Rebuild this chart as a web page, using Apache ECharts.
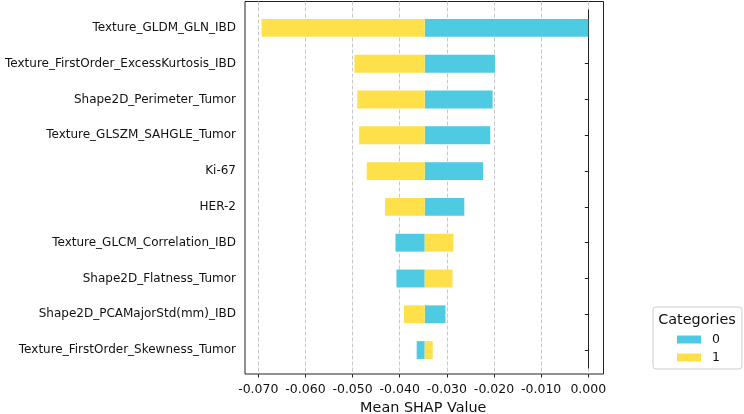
<!DOCTYPE html>
<html>
<head>
<meta charset="utf-8">
<script src="https://cdn.jsdelivr.net/npm/echarts@6/dist/echarts.min.js"></script>
<style>
  html, body { margin: 0; padding: 0; background: #fff; }
  #main { width: 744px; height: 414px; }
</style>
</head>
<body>
<div id="main"></div>
<script>
// features, top to bottom
var categories = [
    'Texture_GLDM_GLN_IBD',
    'Texture_FirstOrder_ExcessKurtosis_IBD',
    'Shape2D_Perimeter_Tumor',
    'Texture_GLSZM_SAHGLE_Tumor',
    'Ki-67',
    'HER-2',
    'Texture_GLCM_Correlation_IBD',
    'Shape2D_Flatness_Tumor',
    'Shape2D_PCAMajorStd(mm)_IBD',
    'Texture_FirstOrder_Skewness_Tumor'
];
// bars start from this common value
var baseline = -0.0347;
// mean SHAP offsets from the baseline for each category
var class0 = [0.0347, 0.0149, 0.0144, 0.0139, 0.0124, 0.0084, -0.0062, -0.0060, 0.0044, -0.0017];
var class1 = [-0.0346, -0.0149, -0.0143, -0.0139, -0.0123, -0.0084, 0.0061, 0.0059, -0.0044, 0.0017];
var xTicks = { min: -0.07, max: 0, step: 0.01 };

var FONT = 'DejaVu Sans';
var BLUE = '#4ecae3';
var YELLOW = '#fee04b';

function baseArr() {
    return categories.map(function () { return baseline; });
}

var chartDom = document.getElementById('main');
var myChart = echarts.init(chartDom);
var option;

option = {
    animation: false,
    textStyle: { fontFamily: FONT },
    title: {
        text: 'Categories',
        left: 697,
        top: 313,
        padding: 0,
        textAlign: 'center',
        textStyle: { fontFamily: FONT, fontSize: 14.4, fontWeight: 'normal', color: '#111' }
    },
    legend: {
        data: ['0', '1'],
        orient: 'vertical',
        left: 653,
        top: 307,
        padding: [26, 22, 5, 24],
        itemGap: 5,
        itemWidth: 24,
        itemHeight: 8,
        icon: 'rect',
        borderColor: '#cccccc',
        borderWidth: 1,
        borderRadius: 3,
        textStyle: { fontFamily: FONT, fontSize: 12.5, color: '#111', padding: [0, 0, 0, 6] }
    },
    grid: [
        // frame
        { left: 245, top: 1.5, width: 358.5, height: 372.5, outerBoundsMode: 'none', show: true, borderColor: '#222', borderWidth: 1, backgroundColor: 'transparent' },
        // x ticks + grid lines
        { left: 258.3, top: 1.5, width: 330, height: 372.5, outerBoundsMode: 'none' },
        // bars
        { left: 258.3, top: 10, width: 330, height: 358, outerBoundsMode: 'none' }
    ],
    xAxis: [
        { gridIndex: 0, type: 'value', show: false, min: 0, max: 1 },
        {
            gridIndex: 1,
            type: 'value',
            min: xTicks.min,
            max: xTicks.max,
            interval: xTicks.step,
            axisLine: { show: false },
            axisTick: { show: true, length: 3.5, lineStyle: { color: '#222' } },
            axisLabel: {
                margin: 9,
                fontFamily: FONT,
                fontSize: 12.5,
                color: '#111',
                formatter: function (v) {
                    if (Math.abs(v) < 1e-9) return '0.000';
                    return v.toFixed(3);
                }
            },
            splitLine: { show: true, lineStyle: { color: '#c8c8c8', type: [4, 2], width: 1 } },
            name: 'Mean SHAP Value',
            nameLocation: 'middle',
            nameGap: 26,
            nameTextStyle: { fontFamily: FONT, fontSize: 14.4, color: '#111' }
        },
        { gridIndex: 2, type: 'value', show: false, min: xTicks.min, max: xTicks.max }
    ],
    yAxis: [
        { gridIndex: 0, type: 'value', show: false, min: 0, max: 1 },
        { gridIndex: 1, type: 'value', show: false, min: 0, max: 1 },
        {
            gridIndex: 2,
            type: 'category',
            data: categories,
            inverse: true,
            offset: 13.3,
            axisLine: { show: true, lineStyle: { color: '#222' } },
            axisTick: { show: true, alignWithLabel: true, length: 3.5, lineStyle: { color: '#222' } },
            axisLabel: { margin: 9, fontFamily: FONT, fontSize: 12, color: '#111' },
            splitLine: { show: false }
        }
    ],
    series: [
        {
            name: 'base0', type: 'bar', xAxisIndex: 2, yAxisIndex: 2,
            stack: 'a', stackStrategy: 'all', silent: true,
            itemStyle: { color: 'transparent' },
            barWidth: '50%', barGap: '-100%',
            data: baseArr()
        },
        {
            name: '0', type: 'bar', xAxisIndex: 2, yAxisIndex: 2,
            stack: 'a', stackStrategy: 'all',
            itemStyle: { color: BLUE },
            barWidth: '50%', barGap: '-100%',
            data: class0
        },
        {
            name: 'base1', type: 'bar', xAxisIndex: 2, yAxisIndex: 2,
            stack: 'b', stackStrategy: 'all', silent: true,
            itemStyle: { color: 'transparent' },
            barWidth: '50%', barGap: '-100%',
            data: baseArr()
        },
        {
            name: '1', type: 'bar', xAxisIndex: 2, yAxisIndex: 2,
            stack: 'b', stackStrategy: 'all',
            itemStyle: { color: YELLOW },
            barWidth: '50%', barGap: '-100%',
            data: class1
        }
    ]
};

option && myChart.setOption(option);
</script>
</body>
</html>
